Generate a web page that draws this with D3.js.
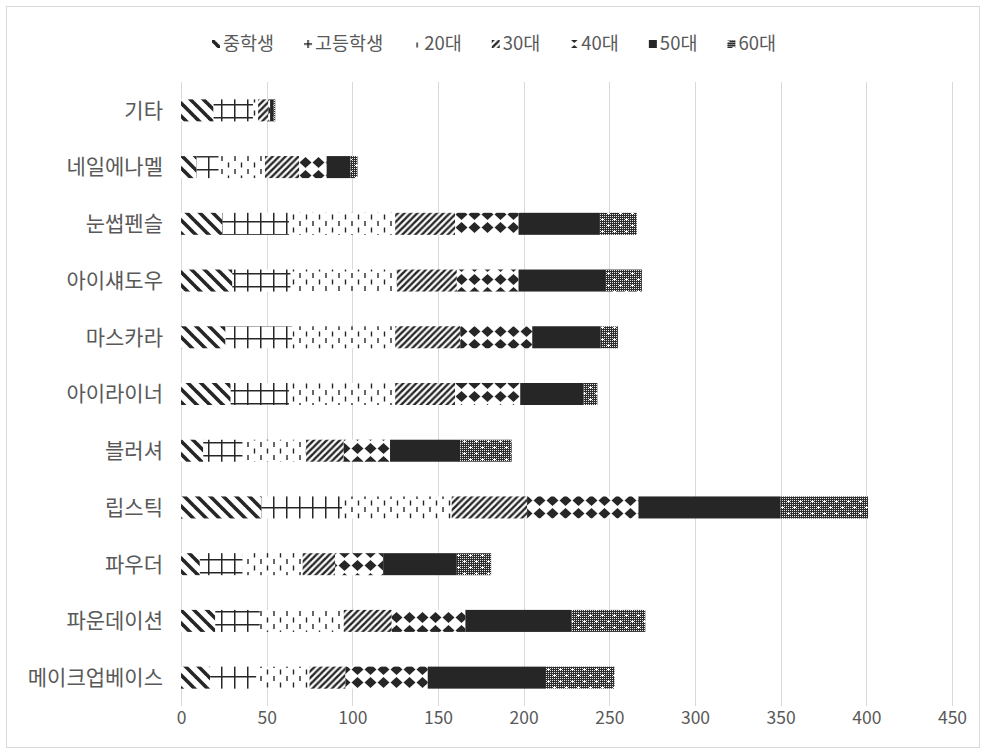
<!DOCTYPE html>
<html><head><meta charset="utf-8">
<script src="https://cdn.jsdelivr.net/npm/d3@7"></script>
<style>body{margin:0;background:#fff}svg{display:block}</style>
</head><body>
<svg id="chart" width="985" height="754"></svg>
<script>
const categories = ["기타","네일에나멜","눈썹펜슬","아이섀도우","마스카라","아이라이너","블러셔","립스틱","파우더","파운데이션","메이크업베이스"];
const seriesNames = ["중학생","고등학생","20대","30대","40대","50대","60대"];
const middleSchool = [19, 9, 24, 30, 26, 29, 13, 47, 11, 20, 17];
const highSchool   = [23, 13, 39, 34, 39, 34, 23, 47, 25, 26, 27];
const age20 = [3, 27, 62, 62, 60, 62, 37, 64, 35, 49, 31];
const age30 = [6, 20, 35, 35, 38, 35, 22, 44, 19, 28, 21];
const age40 = [1, 16, 37, 36, 42, 38, 27, 65, 28, 43, 48];
const age50 = [2, 14, 47, 51, 40, 37, 41, 83, 43, 62, 69];
const age60 = [1, 4, 22, 21, 10, 8, 30, 51, 20, 43, 40];
const tickValues = [0,50,100,150,200,250,300,350,400,450];

const seriesValues = [middleSchool, highSchool, age20, age30, age40, age50, age60];
const table = categories.map((c,i)=>{const o={cat:c}; seriesNames.forEach((s,j)=>o[s]=seriesValues[j][i]); return o;});
const stacked = d3.stack().keys(seriesNames)(table);

const FONT = "'Noto Sans CJK KR','Noto Sans',sans-serif";
const INK = "#262626", TXT = "#595959", GRID = "#d9d9d9";
const svg = d3.select("#chart");

// patterns
const defs = svg.append("defs");
function pat(id, w, h){ return defs.append("pattern").attr("id",id).attr("patternUnits","userSpaceOnUse").attr("width",w).attr("height",h); }
// 중학생: wide downward diagonal
let p = pat("p0",13,13);
p.append("rect").attr("width",13).attr("height",13).attr("fill","#fff");
[-13,0,13].forEach(dx=>p.append("line").attr("x1",dx-1).attr("y1",-1).attr("x2",dx+14).attr("y2",14).attr("stroke",INK).attr("stroke-width",3.6));
// 고등학생: large grid
p = pat("p1",13,13);
p.append("rect").attr("width",13).attr("height",13).attr("fill","#fff");
p.append("line").attr("x1",0).attr("y1",0.75).attr("x2",13).attr("y2",0.75).attr("stroke",INK).attr("stroke-width",1.5);
p.append("line").attr("x1",0.75).attr("y1",0).attr("x2",0.75).attr("y2",13).attr("stroke",INK).attr("stroke-width",1.5);
// 20대: dashed vertical
p = pat("p2",13,13);
p.append("rect").attr("width",13).attr("height",13).attr("fill","#fff");
p.append("line").attr("x1",1).attr("y1",0).attr("x2",1).attr("y2",5).attr("stroke",INK).attr("stroke-width",1.4);
p.append("line").attr("x1",7.5).attr("y1",6.5).attr("x2",7.5).attr("y2",11.5).attr("stroke",INK).attr("stroke-width",1.4);
// 30대: dark upward diagonal
p = pat("p3",6.5,6.5);
p.append("rect").attr("width",6.5).attr("height",6.5).attr("fill","#fff");
[-6.5,0,6.5].forEach(dx=>p.append("line").attr("x1",dx-1).attr("y1",7.5).attr("x2",dx+7.5).attr("y2",-1).attr("stroke",INK).attr("stroke-width",2.4));
// 40대: solid diamond
p = pat("p4",13,13);
p.append("rect").attr("width",13).attr("height",13).attr("fill","#fff");
p.append("polygon").attr("points","6.5,1 12.5,6.5 6.5,12 0.5,6.5").attr("fill",INK);
// 60대: fine dotted texture with small white crosses
p = pat("p6",12,12);
p.append("rect").attr("width",12).attr("height",12).attr("fill","#2e2e2e");
for(let x=0;x<12;x+=2) for(let y=0;y<12;y+=2){ p.append("rect").attr("x",x).attr("y",y).attr("width",1).attr("height",1).attr("fill","#e6e6e6"); }
[[2,3],[8,9]].forEach(([cx,cy])=>{
  p.append("rect").attr("x",cx-1).attr("y",cy).attr("width",3).attr("height",1).attr("fill","#fff");
  p.append("rect").attr("x",cx).attr("y",cy-1).attr("width",1).attr("height",3).attr("fill","#fff");
});
const fills = ["url(#p0)","url(#p1)","url(#p2)","url(#p3)","url(#p4)",INK,"url(#p6)"];
// where the centre of each legend swatch falls inside its pattern tile
const swatchOffsets = [[0,0],[0.75,0.75],[1,1.5],[0,0],[6.5,0],[0,0],[0,0]];

// border
svg.append("rect").attr("x",6.5).attr("y",6.5).attr("width",973).attr("height",741).attr("fill","none").attr("stroke",GRID).attr("stroke-width",1);

const x = d3.scaleLinear().domain([0,450]).range([181,952]);
const y = d3.scaleBand().domain(categories).range([82,706]).paddingInner(0.612).paddingOuter(0.306);

// grid
svg.append("g").selectAll("line").data(tickValues).join("line")
  .attr("x1",d=>Math.round(x(d))+0.5).attr("x2",d=>Math.round(x(d))+0.5)
  .attr("y1",82).attr("y2",706).attr("stroke",GRID).attr("stroke-width",1);

// bars
svg.append("g").selectAll("g").data(stacked).join("g")
  .attr("fill",(d,i)=>fills[i])
  .selectAll("rect").data(d=>d).join("rect")
  .attr("x",d=>x(d[0])).attr("width",d=>Math.max(0,x(d[1])-x(d[0])))
  .attr("y",d=>y(d.data.cat)).attr("height",y.bandwidth());

// x axis labels
const xa = svg.append("g").attr("transform","translate(0,718)").call(d3.axisBottom(x).tickValues(tickValues).tickSize(0).tickPadding(0));
xa.select(".domain").remove();
xa.selectAll("text").attr("fill",TXT).attr("font-family",FONT).attr("font-size",17.5).attr("dy","0.35em").attr("y",0);

// y axis labels
const ya = svg.append("g").attr("transform","translate(163,0)").call(d3.axisLeft(y).tickSize(0).tickPadding(0));
ya.select(".domain").remove();
ya.selectAll("text").attr("fill",TXT).attr("font-family",FONT).attr("font-size",21).attr("dy","0.35em");

// legend
const lg = svg.append("g");
const items = lg.selectAll("g").data(seriesNames).join("g");
items.append("g")
  .attr("transform",(d,i)=>`translate(${4-swatchOffsets[i][0]},${-swatchOffsets[i][1]})`)
  .append("rect")
  .attr("x",(d,i)=>swatchOffsets[i][0]-4).attr("y",(d,i)=>swatchOffsets[i][1]-4)
  .attr("width",8).attr("height",8).attr("fill",(d,i)=>fills[i]);
items.append("text").attr("x",11).attr("dy","0.35em").attr("fill",TXT).attr("font-family",FONT).attr("font-size",18.5).text(d=>d);
let widths = [];
items.each(function(){ widths.push(this.getBBox().width); });
const gap = 30;
const total = d3.sum(widths) + gap*(widths.length-1);
let cx = 494 - total/2;
items.each(function(d,i){ d3.select(this).attr("transform",`translate(${cx},44)`); cx += widths[i] + gap; });
</script>
</body></html>
